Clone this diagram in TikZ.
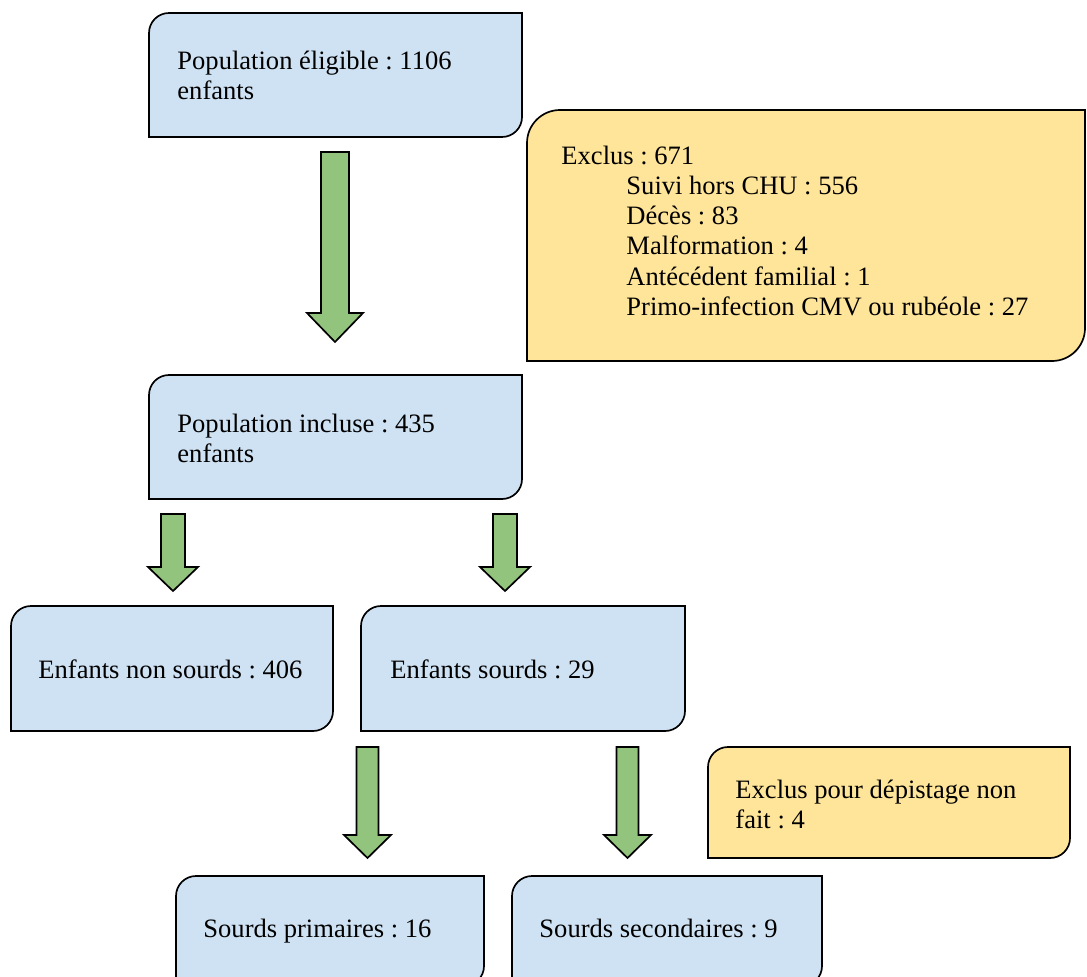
\documentclass[tikz,border=0pt]{standalone}
\usepackage{fontspec}
\setmainfont{Liberation Serif}
\frenchspacing
\usetikzlibrary{calc,fit}
\definecolor{boxblue}{HTML}{CFE2F3}
\definecolor{boxyellow}{HTML}{FFE599}
\definecolor{arrowgreen}{HTML}{93C47D}
\newcommand{\rshape}[3]{%
  \draw[#3] (#1.south west) -- ($(#1.north west)+(0,#2)$)
    .. controls ($(#1.north west)+(0,0.448*#2)$) and ($(#1.north west)+(0.448*#2,0)$) .. ($(#1.north west)+(#2,0)$)
    -- (#1.north east) -- ($(#1.south east)+(0,-#2)$)
    .. controls ($(#1.south east)+(0,-0.448*#2)$) and ($(#1.south east)+(-0.448*#2,0)$) .. ($(#1.south east)+(-#2,0)$)
    -- cycle;}
\newcommand{\blockarrow}[6]{% cx, ytop, ytip, shafthalf, headhalf, headlen
  \draw[greenarrow] (#1-#4,#2) -- (#1+#4,#2) -- (#1+#4,#3-#6) -- (#1+#5,#3-#6)
    -- (#1,#3) -- (#1-#5,#3-#6) -- (#1-#4,#3-#6) -- cycle;}
\tikzset{
  x=0.4444pt, y=-0.4444pt,
  area/.style={inner sep=0pt, outer sep=0pt},
  bluebox/.style={draw=black, line width=0.75pt, fill=boxblue},
  yellowbox/.style={draw=black, line width=0.75pt, fill=boxyellow},
  greenarrow/.style={draw=black, line width=0.75pt, fill=arrowgreen, line join=miter},
  txt/.style={anchor=base west, inner sep=0pt, font=\fontsize{11.8pt}{14pt}\selectfont},
}
\begin{document}
\begin{tikzpicture}
\useasboundingbox (0,0) rectangle (1087,976);
% box areas
\coordinate (p1a) at (149,13);  \coordinate (p1b) at (522,137);
\coordinate (p2a) at (149,375); \coordinate (p2b) at (522,499);
\coordinate (p3a) at (11,606);  \coordinate (p3b) at (333,731);
\coordinate (p4a) at (361,606); \coordinate (p4b) at (685,731);
\coordinate (p5a) at (176,876); \coordinate (p5b) at (484,986);
\coordinate (p6a) at (512,876); \coordinate (p6b) at (822,986);
\coordinate (pea) at (527,110); \coordinate (peb) at (1085,361);
\coordinate (pfa) at (708,747); \coordinate (pfb) at (1070,858);
\node[area, fit=(p1a)(p1b)] (eligible) {};
\node[area, fit=(p2a)(p2b)] (incluse) {};
\node[area, fit=(p3a)(p3b)] (nonsourds) {};
\node[area, fit=(p4a)(p4b)] (sourds) {};
\node[area, fit=(p5a)(p5b)] (primaires) {};
\node[area, fit=(p6a)(p6b)] (secondaires) {};
\node[area, fit=(pea)(peb)] (exclus) {};
\node[area, fit=(pfa)(pfb)] (exclusdep) {};
\rshape{eligible}{20}{bluebox}
\rshape{incluse}{20}{bluebox}
\rshape{nonsourds}{20}{bluebox}
\rshape{sourds}{20}{bluebox}
\rshape{primaires}{20}{bluebox}
\rshape{secondaires}{20}{bluebox}
\rshape{exclus}{33}{yellowbox}
\rshape{exclusdep}{20}{yellowbox}
% arrows
\blockarrow{335}{152}{342}{14}{28}{29}
\blockarrow{173}{514}{591}{12}{25}{24}
\blockarrow{505}{514}{591}{12}{25}{24}
\blockarrow{367.5}{747}{858}{11}{23.5}{23}
\blockarrow{627.5}{747}{858}{11}{23.5}{23}
% texts
\node[txt] (t1a) at (177,70) {Population éligible : 1106};
\node[txt] (t1b) at (177,100) {enfants};
\node[txt] (t2a) at (177,432) {Population incluse : 435};
\node[txt] (t2b) at (177,462) {enfants};
\node[txt] (t3) at (38,678) {Enfants non sourds : 406};
\node[txt] (t4) at (390,678) {Enfants sourds : 29};
\node[txt] (t5) at (203,937) {Sourds primaires : 16};
\node[txt] (t6) at (539,937) {Sourds secondaires : 9};
\node[txt] (te0) at (561,164) {Exclus : 671};
\node[txt] (te1) at (626,194) {Suivi hors CHU : 556};
\node[txt] (te2) at (626,224) {Décès : 83};
\node[txt] (te3) at (626,254) {Malformation : 4};
\node[txt] (te4) at (626,285) {Antécédent familial : 1};
\node[txt] (te5) at (626,315) {Primo-infection CMV ou rubéole : 27};
\node[txt] (tf1) at (735,798) {Exclus pour dépistage non};
\node[txt] (tf2) at (735,828) {fait : 4};
\end{tikzpicture}
\end{document}
